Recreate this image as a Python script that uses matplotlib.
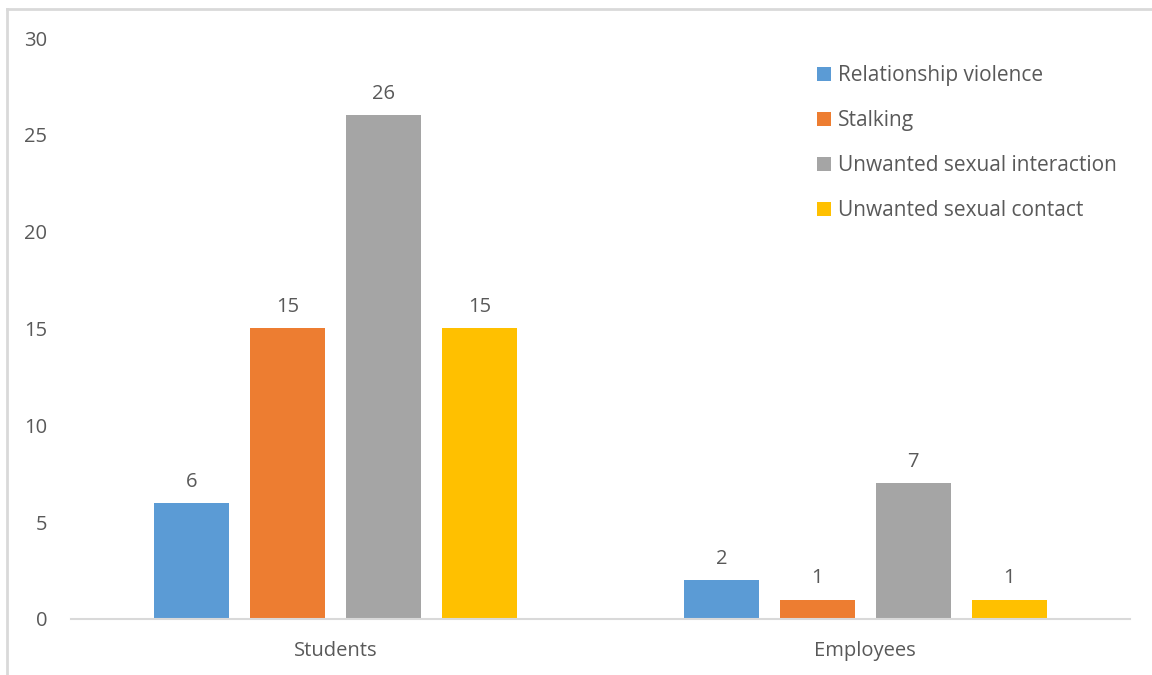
import matplotlib.pyplot as plt
import numpy as np

# Data ========================================================================
groups = ["Students", "Employees"]
series = ["Relationship violence", "Stalking",
          "Unwanted sexual interaction", "Unwanted sexual contact"]
relationship_violence = [6, 2]
stalking = [15, 1]
sexual_interaction = [26, 7]
sexual_contact = [15, 1]
values = [relationship_violence, stalking, sexual_interaction, sexual_contact]
colors = ["#5B9BD5", "#ED7D31", "#A5A5A5", "#FFC000"]
y_ticks = [0, 5, 10, 15, 20, 25, 30]

plt.rcParams['font.family'] = ['Open Sans', 'DejaVu Sans']
txt = "#595959"

fig = plt.figure(figsize=(11.52, 6.75), dpi=100)
ax = fig.add_axes([0.0616, 0.083, 0.9194, 0.8607])

# Chart border (left and top only visible)
fig.add_artist(plt.Line2D([0.0065, 0.0065], [0, 0.987], color="#D9D9D9", lw=2,
                          transform=fig.transFigure))
fig.add_artist(plt.Line2D([0.0065, 1.0], [0.987, 0.987], color="#D9D9D9", lw=2,
                          transform=fig.transFigure))

x = np.arange(len(groups))
width = 0.1416
step = 0.1813
for i, (name, vals, c) in enumerate(zip(series, values, colors)):
    pos = x + (i - 1.5) * step
    bars = ax.bar(pos, vals, width, color=c, label=name)
    for b, v in zip(bars, vals):
        ax.annotate(str(v), (b.get_x() + b.get_width() / 2, v),
                    xytext=(0, 8), textcoords="offset points",
                    ha="center", va="bottom", fontsize=14.5, color=txt)

ax.set_xlim(-0.5, 1.5)
ax.set_ylim(0, 30)
ax.set_yticks(y_ticks)
ax.set_xticks(x)
ax.set_xticklabels(groups)
ax.tick_params(axis="both", length=0, labelsize=14.5, colors=txt)
ax.tick_params(axis="y", pad=17)
ax.tick_params(axis="x", pad=16)
for s in ["left", "right", "top"]:
    ax.spines[s].set_visible(False)
ax.spines["bottom"].set_color("#D9D9D9")
ax.spines["bottom"].set_linewidth(1.5)

leg = ax.legend(loc="upper left", bbox_to_anchor=(0.687, 0.985), frameon=False,
                fontsize=15, handlelength=0.65, handleheight=0.65,
                handletextpad=0.35, labelspacing=1.15, labelcolor=txt)

fig.savefig("out.png", dpi=100)
